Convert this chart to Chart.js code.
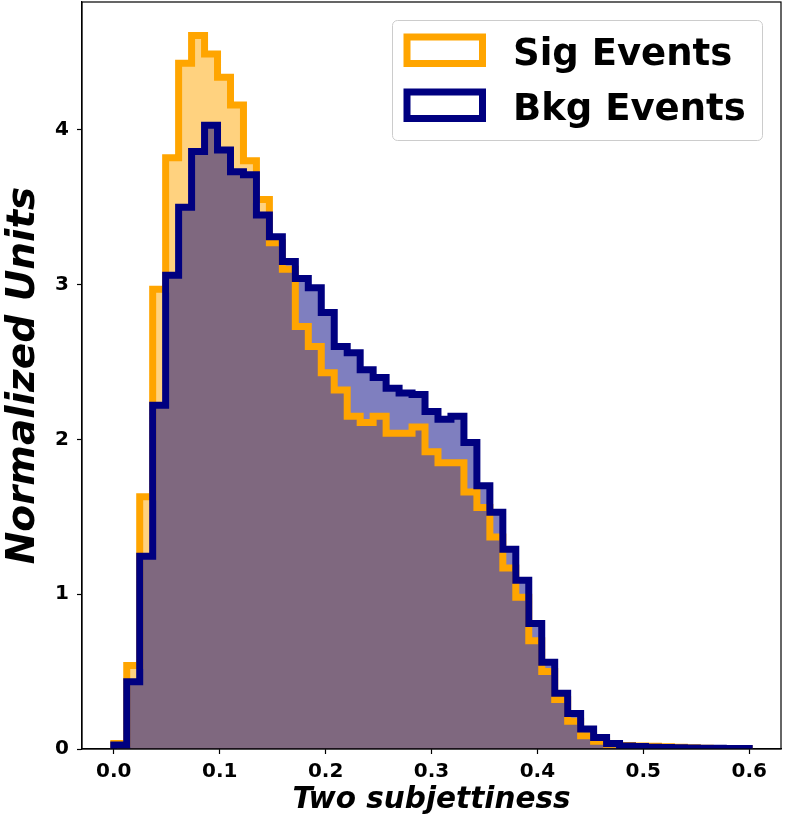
<!DOCTYPE html>
<html>
<head>
<meta charset="utf-8">
<title>Two subjettiness</title>
<script src="https://cdn.jsdelivr.net/npm/chart.js@4"></script>
<style>
  html, body { margin: 0; padding: 0; background: #ffffff; }
  #wrap { width: 785px; height: 819px; }
</style>
</head>
<body>
<div id="wrap"><canvas id="hist" width="785" height="819"></canvas></div>
<script>
    'use strict';

    // histogram bins: 49 bins between 0 and 0.6
    const binMin = 0.0;
    const binMax = 0.6;
    const binCount = 49;

    const sigLabel = 'Sig Events';
    const bkgLabel = 'Bkg Events';

    const sigValues = [
        0.035, 0.54, 1.63, 2.97, 3.82, 4.43, 4.61, 4.49, 4.34, 4.16,
        3.80, 3.55, 3.27, 3.10, 2.73, 2.60, 2.43, 2.32, 2.15, 2.11,
        2.15, 2.04, 2.04, 2.08, 1.92, 1.85, 1.85, 1.66, 1.56, 1.37,
        1.17, 0.98, 0.70, 0.50, 0.32, 0.18, 0.085, 0.05, 0.03, 0.022,
        0.02, 0.018, 0.015, 0.012, 0.008, 0.005, 0.004, 0.003, 0.002
    ];

    const bkgValues = [
        0.026, 0.435, 1.245, 2.22, 3.06, 3.50, 3.86, 4.03, 3.87, 3.73,
        3.71, 3.45, 3.31, 3.15, 3.04, 2.98, 2.82, 2.60, 2.56, 2.45,
        2.40, 2.33, 2.30, 2.29, 2.18, 2.13, 2.15, 1.98, 1.70, 1.53,
        1.29, 1.09, 0.81, 0.56, 0.36, 0.23, 0.13, 0.074, 0.036, 0.02,
        0.016, 0.012, 0.01, 0.008, 0.006, 0.005, 0.005, 0.004, 0.004
    ];

    const xTicks = [0.0, 0.1, 0.2, 0.3, 0.4, 0.5, 0.6];
    const xTickLabels = ['0.0', '0.1', '0.2', '0.3', '0.4', '0.5', '0.6'];
    const yTicks = [0, 1, 2, 3, 4];
    const yTickLabels = ['0', '1', '2', '3', '4'];

    const sigColor = '#FFA500';
    const bkgColor = '#000080';
    const FONT = '"DejaVu Sans", "Liberation Sans", sans-serif';

    const binEdges = [];
    for (let i = 0; i <= binCount; i++) {
        binEdges.push(binMin + (binMax - binMin) * i / binCount);
    }

    // outline of a step histogram, starting and ending on the baseline
    function stepPoints(values) {
        const pts = [{ x: binEdges[0], y: 0 }];
        values.forEach((v, i) => {
            pts.push({ x: binEdges[i], y: v });
            pts.push({ x: binEdges[i + 1], y: v });
        });
        pts.push({ x: binEdges[binEdges.length - 1], y: 0 });
        return pts;
    }

    // top and right spines like a matplotlib frame
    const framePlugin = {
        id: 'frame',
        afterDraw(chart) {
            const { ctx, chartArea: a } = chart;
            ctx.save();
            ctx.strokeStyle = '#000';
            ctx.lineWidth = 1.2;
            ctx.strokeRect(a.left, a.top, a.right - a.left, a.bottom - a.top);
            ctx.restore();
        }
    };

    // legend box in the upper right corner
    const legendPlugin = {
        id: 'boxLegend',
        afterDraw(chart) {
            const ctx = chart.ctx;
            const items = [
                { text: sigLabel, color: sigColor },
                { text: bkgLabel, color: bkgColor }
            ];
            ctx.save();
            ctx.beginPath();
            ctx.roundRect(392.5, 20.5, 370, 120, 5);
            ctx.fillStyle = 'rgba(255,255,255,0.8)';
            ctx.fill();
            ctx.strokeStyle = '#cccccc';
            ctx.lineWidth = 1;
            ctx.stroke();

            items.forEach((it, i) => {
                const top = 37 + i * 55;
                ctx.lineWidth = 7;
                ctx.lineJoin = 'miter';
                ctx.strokeStyle = it.color;
                ctx.fillStyle = '#ffffff';
                ctx.fillRect(407, top, 75.5, 26.5);
                ctx.strokeRect(407, top, 75.5, 26.5);
                ctx.fillStyle = '#000';
                ctx.font = 'bold 37px ' + FONT;
                ctx.textBaseline = 'alphabetic';
                ctx.fillText(it.text, 513, 65 + i * 54.5);
            });
            ctx.restore();
        }
    };

    // keep the plot box exactly where the reference has it
    function fixX(s) {
        s.height = 70;
        s.paddingLeft = 0;
        s.paddingRight = 0;
    }
    function fixY(s) {
        s.width = 82;
        s.paddingTop = 0;
        s.paddingBottom = 0;
    }

    const ctx = document.getElementById('hist').getContext('2d');
    new Chart(ctx, {
        type: 'line',
        data: {
            datasets: [
                {
                    label: bkgLabel,
                    data: stepPoints(bkgValues),
                    borderColor: bkgColor,
                    borderWidth: 7,
                    borderJoinStyle: 'miter',
                    fill: false,
                    pointRadius: 0,
                    tension: 0
                },
                {
                    label: sigLabel,
                    data: stepPoints(sigValues),
                    borderColor: sigColor,
                    borderWidth: 7,
                    borderJoinStyle: 'miter',
                    fill: false,
                    pointRadius: 0,
                    tension: 0
                },
                {
                    label: bkgLabel + ' fill',
                    data: stepPoints(bkgValues),
                    borderColor: 'transparent',
                    borderWidth: 0,
                    backgroundColor: 'rgba(0, 0, 128, 0.5)',
                    fill: 'origin',
                    pointRadius: 0,
                    tension: 0
                },
                {
                    label: sigLabel + ' fill',
                    data: stepPoints(sigValues),
                    borderColor: 'transparent',
                    borderWidth: 0,
                    backgroundColor: 'rgba(255, 165, 0, 0.5)',
                    fill: 'origin',
                    pointRadius: 0,
                    tension: 0
                }
            ]
        },
        options: {
            responsive: false,
            animation: false,
            events: [],
            layout: { padding: { left: 0, right: 4, top: 2, bottom: 0 } },
            plugins: {
                legend: { display: false },
                tooltip: { enabled: false }
            },
            scales: {
                x: {
                    type: 'linear',
                    min: -0.03,
                    max: 0.63,
                    afterBuildTicks: s => { s.ticks = xTicks.map(v => ({ value: v })); },
                    afterFit: fixX,
                    ticks: {
                        autoSkip: false,
                        maxRotation: 0,
                        color: '#000',
                        padding: 6,
                        font: { family: FONT, size: 20, weight: 'bold' },
                        callback: val => xTickLabels[xTicks.indexOf(val)]
                    },
                    grid: {
                        drawOnChartArea: false,
                        drawTicks: true,
                        tickLength: 5,
                        tickWidth: 1.2,
                        tickColor: '#000'
                    },
                    border: { display: true, color: '#000', width: 1.2 },
                    title: {
                        display: true,
                        text: 'Two subjettiness',
                        color: '#000',
                        font: { family: FONT, size: 29.5, weight: 'bold', style: 'italic' },
                        padding: { top: 0, bottom: 1 }
                    }
                },
                y: {
                    type: 'linear',
                    min: 0,
                    max: 4.826,
                    afterBuildTicks: s => { s.ticks = yTicks.map(v => ({ value: v })); },
                    afterFit: fixY,
                    ticks: {
                        color: '#000',
                        padding: 8,
                        font: { family: FONT, size: 20, weight: 'bold' },
                        callback: val => yTickLabels[yTicks.indexOf(val)]
                    },
                    grid: {
                        drawOnChartArea: false,
                        drawTicks: true,
                        tickLength: 5,
                        tickWidth: 1.2,
                        tickColor: '#000'
                    },
                    border: { display: true, color: '#000', width: 1.2 },
                    title: {
                        display: true,
                        text: 'Normalized Units',
                        color: '#000',
                        font: { family: FONT, size: 39, weight: 'bold', style: 'italic' },
                        padding: { top: 0, bottom: 0 }
                    }
                }
            }
        },
        plugins: [framePlugin, legendPlugin]
    });
</script>
</body>
</html>
